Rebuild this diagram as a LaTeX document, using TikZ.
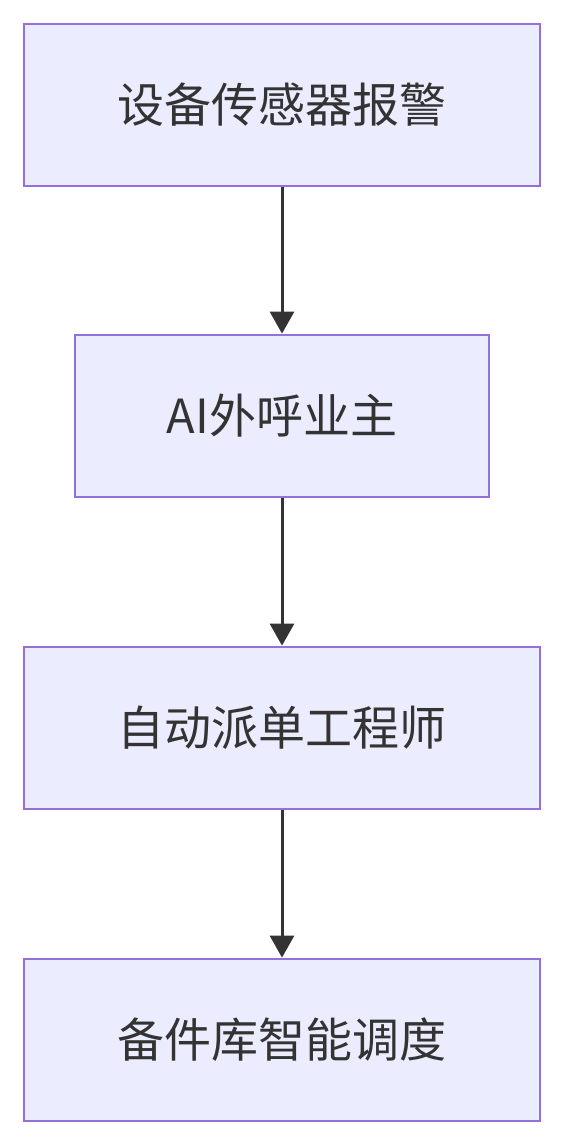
\documentclass[tikz,border=0pt]{standalone}
\usepackage{fontspec}
\setmainfont{Noto Sans CJK SC}
\usetikzlibrary{arrows.meta}
\definecolor{boxfill}{HTML}{ECECFF}
\definecolor{boxline}{HTML}{9370DB}
\definecolor{ink}{HTML}{333333}
\tikzset{
  box/.style={draw=boxline, fill=boxfill, line width=2.8pt, inner sep=0pt, text=ink,
    font=\fontsize{47}{56}\selectfont},
  conn/.style={draw=ink, line width=3pt, -{Triangle[length=22pt,width=24pt]}}
}
\begin{document}
\begin{tikzpicture}[x=1pt,y=-1pt]
\useasboundingbox (0,0) rectangle (564,1146);
\node[box, minimum width=516pt, minimum height=162pt] (a) at (282,105) {设备传感器报警};
\node[box, minimum width=414pt, minimum height=162pt] (b) at (282,416) {AI外呼业主};
\node[box, minimum width=516pt, minimum height=162pt] (c) at (282,728) {自动派单工程师};
\node[box, minimum width=516pt, minimum height=162pt] (d) at (282,1040) {备件库智能调度};
\draw[conn] (a) -- (b);
\draw[conn] (b) -- (c);
\draw[conn] (c) -- (d);
\end{tikzpicture}
\end{document}
